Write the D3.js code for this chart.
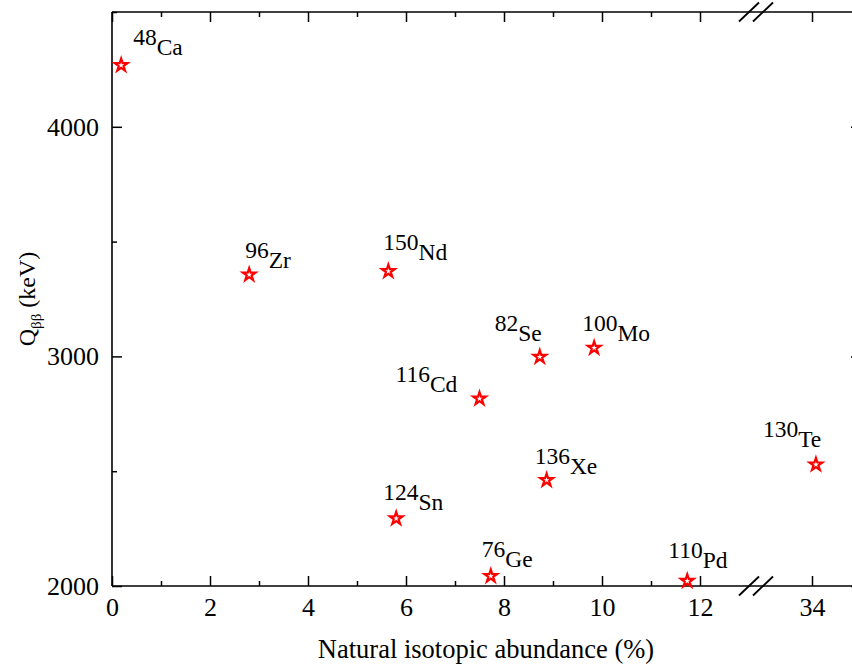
<!DOCTYPE html>
<html>
<head>
<meta charset="utf-8">
<script src="https://cdn.jsdelivr.net/npm/d3@7"></script>
<style>
  body { margin: 0; background: #fff; }
</style>
</head>
<body>
<script>
// isotopes: mass number, element, natural abundance (%), Q value (keV)
const massNumbers = ["48", "96", "150", "82", "100", "116", "136", "124", "76", "110", "130"];
const elements = ["Ca", "Zr", "Nd", "Se", "Mo", "Cd", "Xe", "Sn", "Ge", "Pd", "Te"];
const abundance = [0.187, 2.8, 5.64, 8.73, 9.84, 7.5, 8.87, 5.8, 7.73, 11.74, 34.08];
const qValue = [4268, 3356, 3371, 2998, 3037, 2816, 2461, 2294, 2043, 2022, 2529];

const xTicksLow = [0, 2, 4, 6, 8, 10, 12];
const xTicksHigh = [34];
const xMinorLow = [1, 3, 5, 7, 9, 11];
const yTicks = [2000, 3000, 4000];
const yMinor = [2500, 3500, 4500];

// label offsets from the marker (px)
const labelDx = [12, -4, -5, -45, -12, -84, -12, -13, -9, -19, -53];
const labelDy = [-10, -7, -11, -16, -7, -7, -6, -8, -9, -13, -18];

const w = 852, h = 666;
const mLeft = 112, mTop = 12, mBottom = 586, mRight = 861;
const serif = "Liberation Serif";

const data = elements.map((el, i) => ({
  el: el, mass: massNumbers[i], x: abundance[i], y: qValue[i], dx: labelDx[i], dy: labelDy[i]
}));

// broken x axis: two linear segments
const xLow = d3.scaleLinear().domain([0, 12]).range([mLeft, 700]);
const xHigh = d3.scaleLinear().domain([33, 35]).range([763, mRight]);
const xPos = v => v > 20 ? xHigh(v) : xLow(v);

const y = d3.scaleLinear().domain([2000, 4500]).range([mBottom, mTop]);

const svg = d3.select("body").append("svg")
  .attr("width", w)
  .attr("height", h)
  .attr("font-family", serif);

function styleAxis(g) {
  g.attr("font-family", serif);
  g.select(".domain").remove();
  g.selectAll("line").attr("stroke", "#000").attr("stroke-width", 1.5);
  g.selectAll("text").attr("font-family", serif).attr("font-size", 26).attr("fill", "#000");
}

// bottom axis
svg.append("g").attr("transform", `translate(0,${mBottom})`)
  .call(d3.axisBottom(xLow).tickValues(xTicksLow).tickSize(-10).tickPadding(12).tickFormat(d3.format("d")))
  .call(styleAxis);
svg.append("g").attr("transform", `translate(0,${mBottom})`)
  .call(d3.axisBottom(xHigh).tickValues(xTicksHigh).tickSize(-10).tickPadding(12).tickFormat(d3.format("d")))
  .call(styleAxis);
svg.append("g").attr("transform", `translate(0,${mBottom})`)
  .call(d3.axisBottom(xLow).tickValues(xMinorLow).tickSize(-5).tickFormat(""))
  .call(styleAxis);

// top axis
svg.append("g").attr("transform", `translate(0,${mTop})`)
  .call(d3.axisTop(xLow).tickValues(xTicksLow).tickSize(-10).tickFormat(""))
  .call(styleAxis);
svg.append("g").attr("transform", `translate(0,${mTop})`)
  .call(d3.axisTop(xHigh).tickValues(xTicksHigh).tickSize(-10).tickFormat(""))
  .call(styleAxis);
svg.append("g").attr("transform", `translate(0,${mTop})`)
  .call(d3.axisTop(xLow).tickValues(xMinorLow).tickSize(-5).tickFormat(""))
  .call(styleAxis);

// left axis
svg.append("g").attr("transform", `translate(${mLeft},0)`)
  .call(d3.axisLeft(y).tickValues(yTicks).tickSize(-10).tickPadding(13).tickFormat(d3.format("d")))
  .call(styleAxis);
svg.append("g").attr("transform", `translate(${mLeft},0)`)
  .call(d3.axisLeft(y).tickValues(yMinor).tickSize(-5).tickFormat(""))
  .call(styleAxis);

// right axis (mostly outside the picture)
svg.append("g").attr("transform", `translate(${mRight},0)`)
  .call(d3.axisRight(y).tickValues(yTicks).tickSize(-10).tickFormat(""))
  .call(styleAxis);
svg.append("g").attr("transform", `translate(${mRight},0)`)
  .call(d3.axisRight(y).tickValues(yMinor).tickSize(-5).tickFormat(""))
  .call(styleAxis);

// frame
const frame = svg.append("g").attr("stroke", "#000").attr("stroke-width", 1.6);
frame.append("line").attr("x1", mLeft).attr("x2", mRight).attr("y1", mBottom).attr("y2", mBottom);
frame.append("line").attr("x1", mLeft).attr("x2", mRight).attr("y1", mTop).attr("y2", mTop);
frame.append("line").attr("x1", mLeft).attr("x2", mLeft).attr("y1", mTop).attr("y2", mBottom);
frame.append("line").attr("x1", mRight).attr("x2", mRight).attr("y1", mTop).attr("y2", mBottom);

// axis break marks
const breaks = [xLow(13), xHigh(33)];
[mTop, mBottom].forEach(yy => {
  breaks.forEach(bx => {
    svg.append("line")
      .attr("x1", bx - 10).attr("y1", yy + 9.5)
      .attr("x2", bx + 10).attr("y2", yy - 9.5)
      .attr("stroke", "#000").attr("stroke-width", 1.8);
  });
});

// markers
svg.append("g").selectAll("path")
  .data(data)
  .enter()
  .append("path")
  .attr("d", d3.symbol().type(d3.symbolStar).size(50))
  .attr("transform", d => `translate(${xPos(d.x)},${y(d.y)})`)
  .attr("fill", "#fff")
  .attr("stroke", "#ff0000")
  .attr("stroke-width", 2.2);

// isotope labels
const labels = svg.append("g").selectAll("text")
  .data(data)
  .enter()
  .append("text")
  .attr("font-family", serif)
  .attr("x", d => xPos(d.x) + d.dx)
  .attr("y", d => y(d.y) + d.dy)
  .attr("font-size", 23.5);
labels.append("tspan").attr("dy", -10).text(d => d.mass);
labels.append("tspan").attr("dy", 10).text(d => d.el);

// axis titles
svg.append("text")
  .attr("font-family", serif)
  .attr("x", 486)
  .attr("y", 658)
  .attr("text-anchor", "middle")
  .attr("font-size", 26.5)
  .text("Natural isotopic abundance (%)");

const yt = svg.append("text")
  .attr("font-family", serif)
  .attr("transform", "translate(35,299) rotate(-90)")
  .attr("text-anchor", "middle")
  .attr("font-size", 24);
yt.append("tspan").text("Q");
yt.append("tspan").attr("font-size", 15).attr("dy", 6).text("ββ");
yt.append("tspan").attr("dy", -6).text(" (keV)");
</script>
</body>
</html>
